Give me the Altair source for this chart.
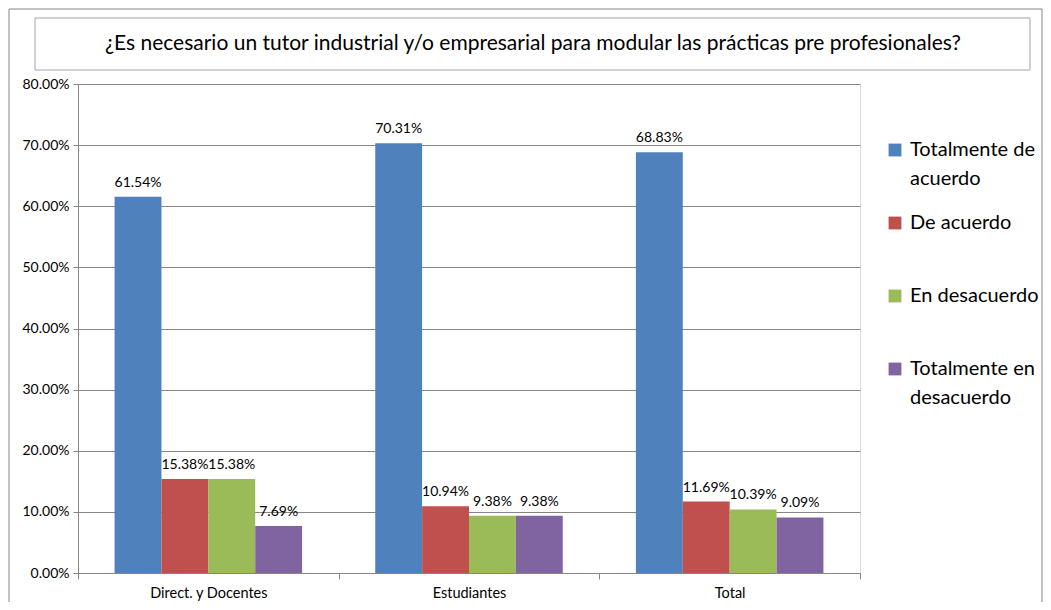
import altair as alt
import pandas as pd

groups = ["Direct. y Docentes", "Estudiantes", "Total"]
series = ["Totalmente de acuerdo", "De acuerdo", "En desacuerdo", "Totalmente en desacuerdo"]
colors = ["#4F81BD", "#C0504D", "#9BBB59", "#8064A2"]
direct_vals = [0.6154, 0.1538, 0.1538, 0.0769]
estud_vals = [0.7031, 0.1094, 0.0938, 0.0938]
total_vals = [0.6883, 0.1169, 0.1039, 0.0909]
title_text = "¿Es necesario un tutor industrial y/o empresarial para modular las prácticas pre profesionales?"

rows = []
for g, vals in zip(groups, [direct_vals, estud_vals, total_vals]):
    for s, v in zip(series, vals):
        rows.append({"grupo": g, "serie": s, "valor": v})
df = pd.DataFrame(rows)

FONT = "Lato"
W, H = 782, 489

x_enc = alt.X("grupo:N", sort=groups, title=None,
              scale=alt.Scale(paddingInner=0, paddingOuter=0),
              axis=alt.Axis(labelAngle=0, tickBand="extent", tickSize=6, labelFontSize=14.5,
                            labelColor="black", labelFont=FONT, domainColor="#868686",
                            tickColor="#868686", labelPadding=7, zindex=1))
xoff = alt.XOffset("serie:N", sort=series, scale=alt.Scale(paddingInner=0, paddingOuter=0.78))

label_expr = ("datum.label == 'Totalmente de acuerdo' ? ['Totalmente de', 'acuerdo'] : "
              "datum.label == 'Totalmente en desacuerdo' ? ['Totalmente en', 'desacuerdo'] : "
              "[datum.label, ' ']")

bars = alt.Chart(df).mark_bar().encode(
    x=x_enc,
    xOffset=xoff,
    y=alt.Y("valor:Q", title=None,
            scale=alt.Scale(domain=[0, 0.8], nice=False),
            axis=alt.Axis(format=".2%", values=[i / 10 for i in range(9)],
                          labelFontSize=14, labelColor="black", labelFont=FONT,
                          gridColor="#868686", domainColor="#868686", tickColor="#868686",
                          tickSize=5, labelPadding=4)),
    color=alt.Color("serie:N", sort=series, scale=alt.Scale(domain=series, range=colors),
                    legend=alt.Legend(title=None, orient="none", legendX=807, legendY=56,
                                      padding=0, symbolType="square", symbolSize=165,
                                      symbolStrokeWidth=0, labelFontSize=20, labelFont=FONT,
                                      labelColor="black", labelLimit=300, labelExpr=label_expr,
                                      rowPadding=24, labelBaseline="middle", labelOffset=5)),
)

texts = alt.Chart(df).mark_text(baseline="bottom", dy=-7, fontSize=14, font=FONT, color="black").encode(
    x=alt.X("grupo:N", sort=groups),
    xOffset=alt.XOffset("serie:N", sort=series),
    y="valor:Q",
    text=alt.Text("valor:Q", format=".2%"),
)

deco = pd.DataFrame({"t": [title_text]})
outer = alt.Chart(deco).mark_rect(fillOpacity=0, stroke="#868686", strokeWidth=1).encode(
    x=alt.value(-69), x2=alt.value(W + 182), y=alt.value(-75), y2=alt.value(H + 40))
tbox = alt.Chart(deco).mark_rect(fill="white", stroke="#A6A6A6", strokeWidth=1).encode(
    x=alt.value(-43), x2=alt.value(952), y=alt.value(-66), y2=alt.value(-14))
ttext = alt.Chart(deco).mark_text(fontSize=21, font=FONT, color="black", baseline="middle", align="center").encode(
    x=alt.value(455), y=alt.value(-40), text="t:N")

chart = alt.layer(outer, tbox, ttext, bars, texts).properties(
    width=W, height=H, autosize=alt.AutoSizeParams(type="none"),
    padding={"left": 70, "top": 76, "right": 183, "bottom": 29},
).configure_view(stroke=None).configure(background="white", style={"guide-label": {"lineHeight": 29}})

chart.save("out.html", embed_options={"renderer": "svg", "actions": False})
